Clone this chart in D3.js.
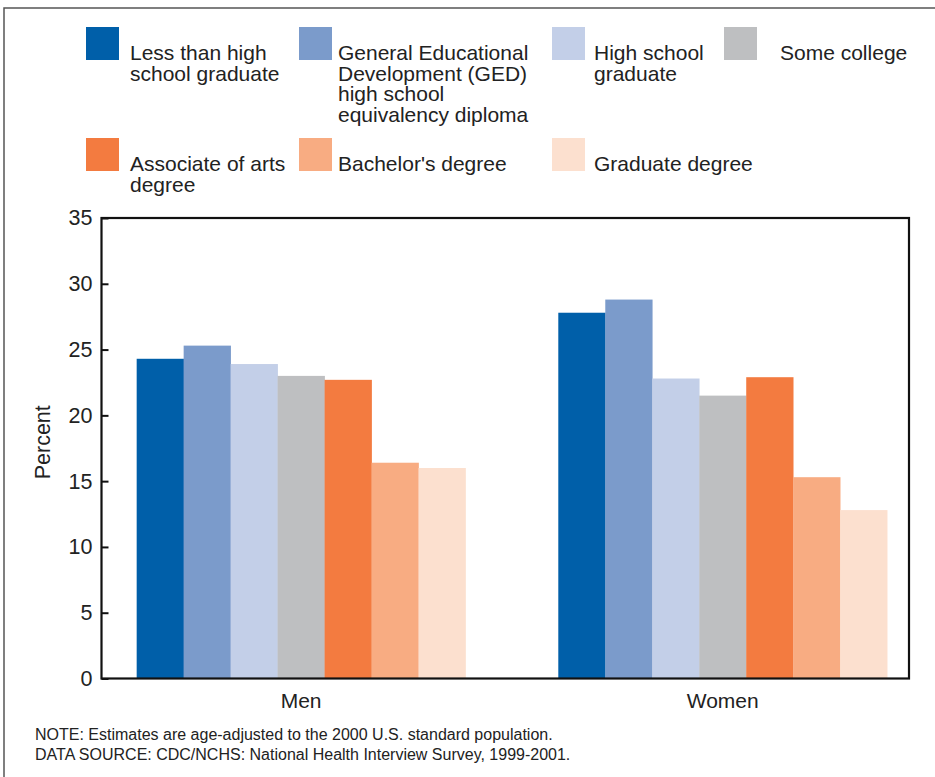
<!DOCTYPE html>
<html>
<head>
<meta charset="utf-8">
<script src="https://cdn.jsdelivr.net/npm/d3@7"></script>
<style>
  html, body { margin: 0; padding: 0; background: #fff; }
  svg { display: block; font-family: "Liberation Sans", Arial, Helvetica, sans-serif; }
</style>
</head>
<body>
<svg id="chart" width="935" height="777"></svg>
<script>
// ---- data ----
const groups = ["Men", "Women"];
const seriesNames = [
  "Less than high school graduate",
  "General Educational Development (GED) high school equivalency diploma",
  "High school graduate",
  "Some college",
  "Associate of arts degree",
  "Bachelor's degree",
  "Graduate degree"
];
const legendLabels = [
  ["Less than high", "school graduate"],
  ["General Educational", "Development (GED)", "high school", "equivalency diploma"],
  ["High school", "graduate"],
  ["Some college"],
  ["Associate of arts", "degree"],
  ["Bachelor's degree"],
  ["Graduate degree"]
];
const menValues   = [24.3, 25.3, 23.9, 23.0, 22.7, 16.4, 16.0];
const womenValues = [27.8, 28.8, 22.8, 21.5, 22.9, 15.3, 12.8];
const colors = ["#005fa9", "#7b9bcb", "#c3cfe8", "#bebfc1", "#f37b40", "#f8ac82", "#fce0cf"];
const yTicks = [0, 5, 10, 15, 20, 25, 30, 35];
const yLabel = "Percent";
const notes = [
  "NOTE: Estimates are age-adjusted to the 2000 U.S. standard population.",
  "DATA SOURCE: CDC/NCHS: National Health Interview Survey, 1999-2001."
];

const valuesByGroup = { Men: menValues, Women: womenValues };

// ---- layout ----
const svg = d3.select("#chart");
const plot = { left: 101.5, top: 218, right: 909, bottom: 678.5 };

// outer border
svg.append("rect")
  .attr("x", 4).attr("y", 8).attr("width", 1000).attr("height", 1000)
  .attr("fill", "none").attr("stroke", "#555").attr("stroke-width", 1.5);

const y = d3.scaleLinear().domain([0, 35]).range([plot.bottom, plot.top]);
const x0 = d3.scaleBand().domain(groups)
  .range([plot.left, plot.right])
  .paddingInner(0.22).paddingOuter(0.0676).align(0.617);
const x1 = d3.scaleBand().domain(seriesNames).range([0, x0.bandwidth()]).padding(0);
const color = d3.scaleOrdinal().domain(seriesNames).range(colors);

// bars
const gGroups = svg.append("g").selectAll("g").data(groups).join("g")
  .attr("transform", d => `translate(${x0(d)},0)`);
gGroups.selectAll("rect")
  .data(g => seriesNames.map((s, i) => ({ s, v: valuesByGroup[g][i] })))
  .join("rect")
  .attr("x", d => x1(d.s))
  .attr("y", d => y(d.v))
  .attr("width", x1.bandwidth() + 0.3)
  .attr("height", d => y(0) - y(d.v))
  .attr("fill", d => color(d.s));

// frame
svg.append("rect")
  .attr("x", plot.left).attr("y", plot.top)
  .attr("width", plot.right - plot.left).attr("height", plot.bottom - plot.top)
  .attr("fill", "none").attr("stroke", "#111").attr("stroke-width", 2.2);

// y axis
const yAxis = d3.axisRight(y).tickValues(yTicks).tickSize(7).tickFormat(d3.format("d"));
const ya = svg.append("g").attr("transform", `translate(${plot.left},0)`).call(yAxis);
ya.select(".domain").remove();
ya.selectAll(".tick line").attr("stroke", "#111").attr("stroke-width", 2);
ya.selectAll(".tick text")
  .attr("x", -9).attr("text-anchor", "end")
  .attr("font-size", 21.5).attr("fill", "#222")
  .attr("font-family", "Liberation Sans, Arial, sans-serif");

svg.append("text")
  .attr("transform", `translate(50,${(plot.top + plot.bottom) / 2 - 6}) rotate(-90)`)
  .attr("text-anchor", "middle")
  .attr("font-size", 21.5).attr("fill", "#222")
  .text(yLabel);

// x axis labels
const xAxis = d3.axisBottom(x0).tickSize(0);
const xa = svg.append("g").attr("transform", `translate(0,${plot.bottom})`).call(xAxis);
xa.select(".domain").remove();
xa.selectAll(".tick text")
  .attr("dy", 0).attr("y", 29)
  .attr("font-size", 21).attr("fill", "#222")
  .attr("font-family", "Liberation Sans, Arial, sans-serif");

// legend
const legendPos = [
  { x: 86, y: 27 }, { x: 299, y: 27 }, { x: 552, y: 27 }, { x: 724, y: 27 },
  { x: 86, y: 138 }, { x: 299, y: 138 }, { x: 552, y: 138 }
];
const textOffsets = [44, 39, 42, 56, 44, 39, 42];
const lg = svg.append("g").selectAll("g").data(seriesNames).join("g")
  .attr("transform", (d, i) => `translate(${legendPos[i].x},${legendPos[i].y})`);
lg.append("rect").attr("width", 33).attr("height", 33).attr("fill", d => color(d));
lg.append("text")
  .attr("font-size", 21).attr("fill", "#222")
  .attr("x", (d, i) => textOffsets[i]).attr("y", 33)
  .selectAll("tspan").data((d, i) => legendLabels[i]).join("tspan")
  .attr("x", function () { return d3.select(this.parentNode).attr("x"); })
  .attr("dy", (d, i) => i === 0 ? 0 : 20.7)
  .text(d => d);

// notes
svg.append("g").selectAll("text").data(notes).join("text")
  .attr("x", 35).attr("y", (d, i) => 740 + i * 20)
  .attr("font-size", 16).attr("fill", "#222")
  .text(d => d);
</script>
</body>
</html>
